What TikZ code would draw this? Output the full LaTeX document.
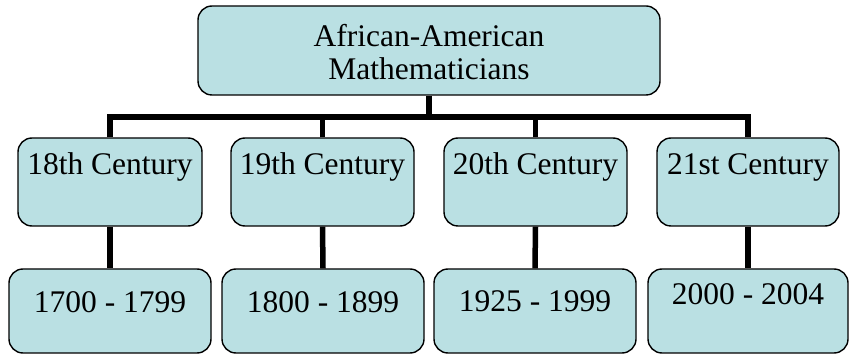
\documentclass[tikz,border=0pt]{standalone}
\usepackage{fontspec}
\setmainfont{Liberation Serif}
\definecolor{boxfill}{RGB}{186,224,227}
\begin{document}
\begin{tikzpicture}[x=1pt,y=1pt,
  box/.style={draw=black, line width=1.4pt, fill=boxfill, rounded corners=14pt,
    inner sep=0pt, anchor=base, font=\fontsize{31.5}{33}\selectfont},
  conn/.style={draw=black, line width=5.5pt, line join=miter}]
\useasboundingbox (0,0) rectangle (849,-355);
% top
\node[box, minimum width=462pt, text width=462pt, align=center, text height=41pt, text depth=48pt]
  (top) at (429,-47) {African-American\\Mathematicians};
% centuries
\node[box, minimum width=184pt, text height=37pt, text depth=51pt] (c18) at (110,-175) {18th Century};
\node[box, minimum width=183pt, text height=37pt, text depth=51pt] (c19) at (322.5,-175) {19th Century};
\node[box, minimum width=183pt, text height=37pt, text depth=51pt] (c20) at (535.5,-175) {20th Century};
\node[box, minimum width=182pt, text height=37pt, text depth=51pt] (c21) at (748,-175) {21st Century};
% years
\node[box, minimum width=202pt, text height=44pt, text depth=40pt] (y18) at (110,-313) {1700 - 1799};
\node[box, minimum width=202pt, text height=44pt, text depth=40pt] (y19) at (323,-313) {1800 - 1899};
\node[box, minimum width=202pt, text height=43pt, text depth=41pt] (y20) at (535,-312) {1925 - 1999};
\node[box, minimum width=200pt, text height=36pt, text depth=48pt] (y21) at (748,-305) {2000 - 2004};
% connectors
\coordinate (bar) at (429,-117);
\draw[conn] (top.south) -- (bar);
\draw[conn] (c18.north) -- (c18.north |- bar) -- (c21.north |- bar) -- (c21.north);
\draw[conn] (c19.north) -- (c19.north |- bar);
\draw[conn] (c20.north) -- (c20.north |- bar);
\draw[conn] (c18.south) -- (y18.north);
\draw[conn] (c19.south) -- (y19.north);
\draw[conn] (c20.south) -- (y20.north);
\draw[conn] (c21.south) -- (y21.north);
\end{tikzpicture}
\end{document}
